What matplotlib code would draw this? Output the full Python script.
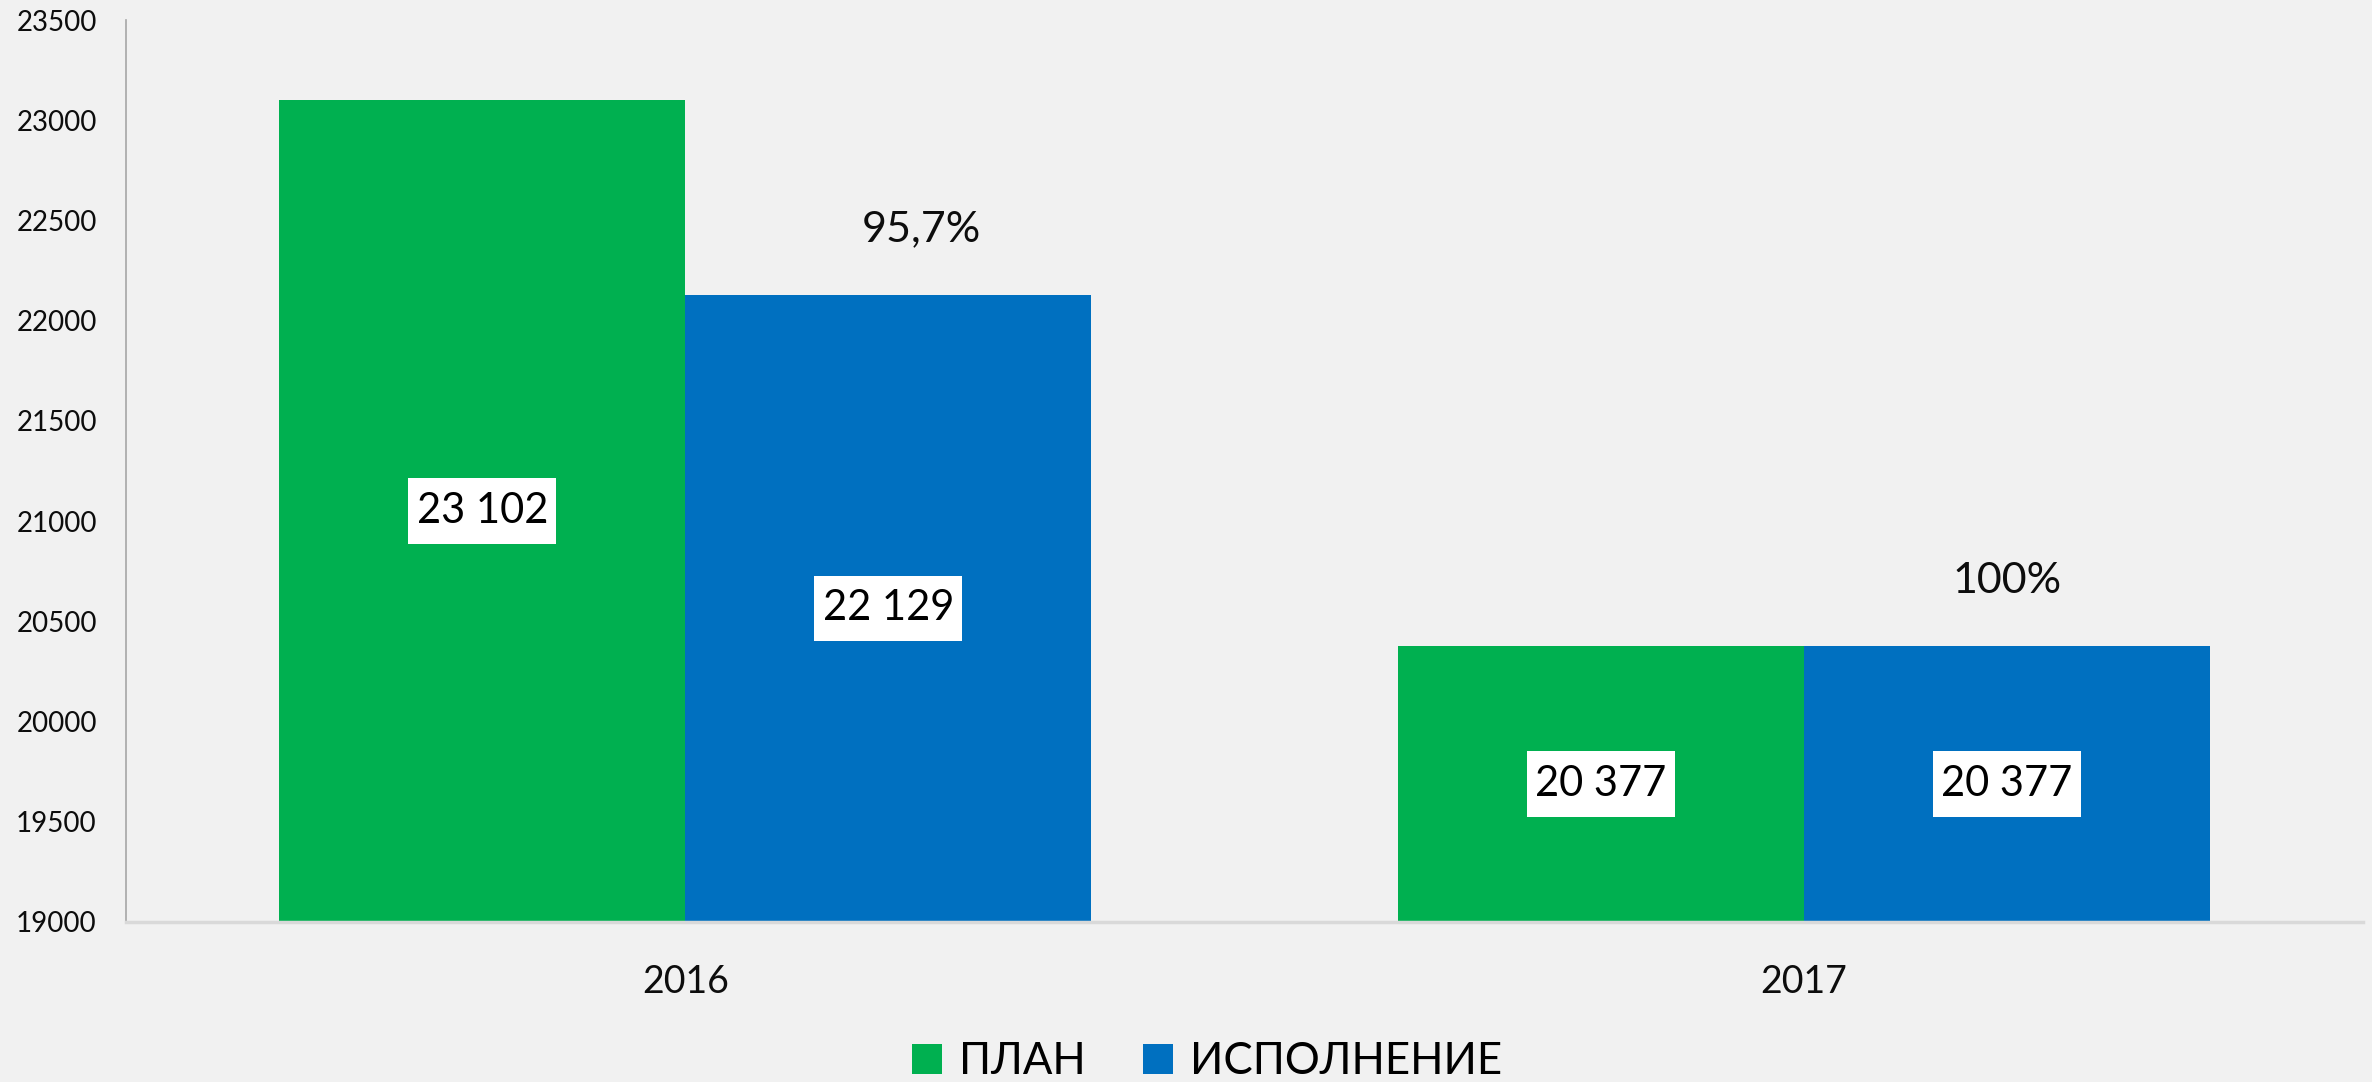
import matplotlib.pyplot as plt
from matplotlib.path import Path
import numpy as np

# данные
годы = ['2016', '2017']
план = [23102, 20377]
исполнение = [22129, 20377]
подписи_план = ['23 102', '20 377']
подписи_исп = ['22 129', '20 377']
проценты = ['95,7%', '100%']

# смещения подписей процентов (в пунктах)
смещение_процентов = [(24, 47), (0, 47)]

фон = '#f1f1f1'
зелёный = '#00b050'
синий = '#0070c0'

plt.rcParams['font.family'] = ['Lato', 'Open Sans', 'DejaVu Sans']


def рамка(x0, y0, width, height, mutation_size):
    # прямоугольник с разными отступами по горизонтали и вертикали
    px = 0.2 * mutation_size
    py = 0.33 * mutation_size
    x0, y0 = x0 - px, y0 - py
    x1, y1 = x0 + width + 2 * px, y0 + height + 2 * py
    return Path([(x0, y0), (x1, y0), (x1, y1), (x0, y1), (x0, y0)], closed=True)


fig = plt.figure(figsize=(23.72, 10.82), dpi=100, facecolor=фон)
ax = fig.add_axes([0.0531, 0.1479, 0.9431, 0.8336], facecolor=фон)

x = np.arange(len(годы))
w = 0.363

b1 = ax.bar(x - w / 2, план, w, color=зелёный, label='ПЛАН', zorder=2)
b2 = ax.bar(x + w / 2, исполнение, w, color=синий, label='ИСПОЛНЕНИЕ', zorder=2)

ax.set_ylim(19000, 23500)
ax.set_xlim(-0.5, 1.5)
ax.set_yticks(np.arange(19000, 23501, 500))
ax.set_xticks(x)
ax.set_xticklabels(годы)

ax.tick_params(axis='y', length=0, pad=21, labelsize=20, colors='#0d0d0d')
ax.tick_params(axis='x', length=0, pad=30, labelsize=27, colors='#0d0d0d')

for s in ['top', 'right']:
    ax.spines[s].set_visible(False)
ax.spines['left'].set_color('#a6a6a6')
ax.spines['left'].set_linewidth(1.2)
ax.spines['bottom'].set_color('#d9d9d9')
ax.spines['bottom'].set_linewidth(2.5)

# подписи значений в белых рамках
ymin = ax.get_ylim()[0]
for bars, labels in [(b1, подписи_план), (b2, подписи_исп)]:
    for bar, lab in zip(bars, labels):
        cx = bar.get_x() + bar.get_width() / 2
        cy = (ymin + bar.get_height()) / 2
        ax.text(cx, cy, lab, ha='center', va='center', fontsize=30, color='black',
                zorder=3, bbox=dict(boxstyle=рамка, fc='white', ec='none'))

# проценты исполнения
for bar, p, off in zip(b2, проценты, смещение_процентов):
    cx = bar.get_x() + bar.get_width() / 2
    ax.annotate(p, (cx, bar.get_height()), xytext=off, textcoords='offset points',
                ha='center', va='center', fontsize=31, color='#0d0d0d')

leg = fig.legend(loc='center', bbox_to_anchor=(0.509, 0.019), ncol=2, frameon=False,
                 fontsize=31.5, handlelength=0.68, handleheight=0.68,
                 handletextpad=0.4, columnspacing=1.3)

plt.savefig('out.png', dpi=100, facecolor=фон)
plt.close()
